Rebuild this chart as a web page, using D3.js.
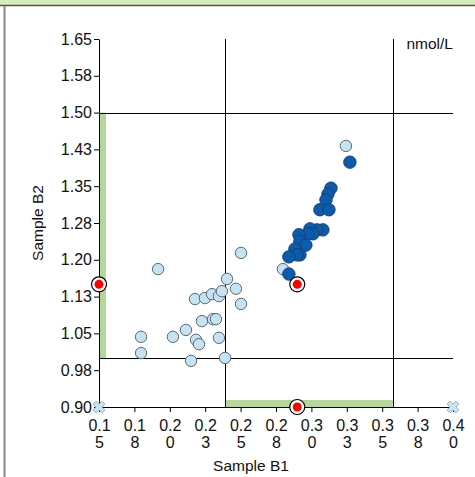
<!DOCTYPE html>
<html>
<head>
<meta charset="utf-8">
<script src="https://cdn.jsdelivr.net/npm/d3@7"></script>
<style>
  body { margin: 0; background: #fff; }
  text { font-family: "Liberation Sans", Arial, sans-serif; }
</style>
</head>
<body>
<div id="chart"></div>
<script>
// data
const xTicks = [0.15, 0.175, 0.20, 0.225, 0.25, 0.275, 0.30, 0.325, 0.35, 0.375, 0.40];
const yTicks = [0.90, 0.975, 1.05, 1.125, 1.20, 1.275, 1.35, 1.425, 1.50, 1.575, 1.65];

// light blue samples
const lightB1 = [0.1917, 0.1797, 0.1797, 0.2022, 0.2114, 0.2185, 0.2206, 0.2150, 0.2227, 0.2305, 0.2326, 0.2347, 0.2390,
  0.2178, 0.2248, 0.2298, 0.2347, 0.2368, 0.2404, 0.2467, 0.2503, 0.2503, 0.2799, 0.3244];
const lightB2 = [1.181, 1.043, 1.010, 1.043, 1.057, 1.037, 1.028, 0.994, 1.075, 1.079, 1.079, 1.041, 1.000,
  1.120, 1.122, 1.130, 1.126, 1.136, 1.161, 1.141, 1.110, 1.214, 1.181, 1.432];

// dark blue samples
const darkB1 = [0.3272, 0.3138, 0.3117, 0.3103, 0.3060, 0.3124, 0.3081, 0.3039, 0.2990, 0.3011, 0.2975, 0.2912,
  0.2919, 0.2961, 0.2884, 0.2919, 0.2898, 0.2841, 0.2841];
const darkB2 = [1.399, 1.346, 1.334, 1.322, 1.302, 1.302, 1.261, 1.261, 1.263, 1.253, 1.253, 1.251,
  1.238, 1.230, 1.222, 1.210, 1.210, 1.206, 1.171];

// highlighted sample
const current = { b1: 0.29, b2: 1.15 };

// reference limits
const limB1 = [0.239, 0.3575];
const limB2 = [1.0, 1.5];

const W = 475, H = 477;
const x0 = 99, x1 = 453, y0 = 407, y1 = 39;

const svg = d3.select('#chart').append('svg')
  .attr('width', W)
  .attr('height', H);

// top band and left border
svg.append('rect').attr('x', 0).attr('y', 0).attr('width', W).attr('height', 5).attr('fill', '#d5edbb');
svg.append('line').attr('x1', 0).attr('x2', W).attr('y1', 5.5).attr('y2', 5.5).attr('stroke', '#555').attr('stroke-width', 1.5);
svg.append('line').attr('x1', 4.5).attr('x2', 4.5).attr('y1', 6).attr('y2', H).attr('stroke', '#888').attr('stroke-width', 2);

const x = d3.scaleLinear().domain([0.15, 0.40]).range([x0, x1]);
const y = d3.scaleLinear().domain([0.90, 1.65]).range([y0, y1]);

// round half up, like the source (1.575 -> 1.58)
const fmt = v => (Math.round(v * 100 + 1e-6) / 100).toFixed(2);

// green limit bars
svg.append('rect')
  .attr('x', x0).attr('width', 7)
  .attr('y', y(limB2[1])).attr('height', y(limB2[0]) - y(limB2[1]))
  .attr('fill', '#b5d79a');
svg.append('rect')
  .attr('x', x(limB1[0])).attr('width', x(limB1[1]) - x(limB1[0]))
  .attr('y', y0 - 7).attr('height', 7)
  .attr('fill', '#b5d79a');

// reference lines
const refs = svg.append('g').attr('stroke', '#000').attr('stroke-width', 1);
limB2.forEach(v => {
  refs.append('line').attr('x1', x0).attr('x2', x1)
    .attr('y1', Math.round(y(v)) + 0.5).attr('y2', Math.round(y(v)) + 0.5);
});
limB1.forEach(v => {
  refs.append('line').attr('y1', y1).attr('y2', y0)
    .attr('x1', Math.round(x(v)) + 0.5).attr('x2', Math.round(x(v)) + 0.5);
});

// y axis
const yAxis = svg.append('g')
  .attr('transform', `translate(${x0},0)`)
  .call(d3.axisLeft(y).tickValues(yTicks).tickFormat(fmt).tickSize(5).tickSizeOuter(0));
yAxis.select('.domain').attr('stroke', '#000');
yAxis.selectAll('text').attr('font-size', 16).attr('fill', '#111').attr('x', -7);

// x axis
const xAxis = svg.append('g')
  .attr('transform', `translate(0,${y0})`)
  .call(d3.axisBottom(x).tickValues(xTicks).tickSize(5).tickSizeOuter(0).tickFormat(''));
xAxis.select('.domain').attr('stroke', '#000');
xAxis.selectAll('.tick').each(function(d) {
  const s = fmt(d);
  const t = d3.select(this).append('text')
    .attr('fill', '#111').attr('font-size', 16).attr('text-anchor', 'middle');
  t.append('tspan').attr('x', 0).attr('y', 24).text(s.slice(0, 3));
  t.append('tspan').attr('x', 0).attr('y', 41).text(s.slice(3));
});

// axis titles
svg.append('text')
  .attr('x', 251).attr('y', 471)
  .attr('text-anchor', 'middle').attr('font-size', 15.5).attr('fill', '#111')
  .text('Sample B1');
svg.append('text')
  .attr('transform', `translate(43,${(y0 + y1) / 2}) rotate(-90)`)
  .attr('text-anchor', 'middle').attr('font-size', 15.5).attr('fill', '#111')
  .text('Sample B2');
svg.append('text')
  .attr('x', 453).attr('y', 49)
  .attr('text-anchor', 'end').attr('font-size', 15.5).attr('fill', '#111')
  .text('nmol/L');

// corner markers
const cross = d3.symbol().type(d3.symbolCross).size(85);
[0.15, 0.40].forEach(v => {
  svg.append('path')
    .attr('d', cross())
    .attr('transform', `translate(${x(v)},${y0}) rotate(45)`)
    .attr('fill', '#c9e4f3').attr('stroke', '#8aa3b3').attr('stroke-width', 0.8);
});

// points
const light = lightB1.map((v, i) => ({ b1: v, b2: lightB2[i] }));
const dark = darkB1.map((v, i) => ({ b1: v, b2: darkB2[i] }));

svg.append('g').selectAll('circle')
  .data(light)
  .join('circle')
  .attr('cx', d => x(d.b1))
  .attr('cy', d => y(d.b2))
  .attr('r', 5.7)
  .attr('fill', '#c6e3f4')
  .attr('stroke', '#5d6a72')
  .attr('stroke-width', 1);

svg.append('g').selectAll('circle')
  .data(dark)
  .join('circle')
  .attr('cx', d => x(d.b1))
  .attr('cy', d => y(d.b2))
  .attr('r', 6.2)
  .attr('fill', '#0c5cad')
  .attr('stroke', '#173f70')
  .attr('stroke-width', 1);

// highlighted marker, in plot and projected on both axes
const marks = [
  [x(current.b1), y(current.b2)],
  [x0, y(current.b2)],
  [x(current.b1), y0]
];
marks.forEach(([cx, cy]) => {
  svg.append('circle').attr('cx', cx).attr('cy', cy).attr('r', 7.5)
    .attr('fill', '#fff').attr('stroke', '#000').attr('stroke-width', 1.2);
  svg.append('circle').attr('cx', cx).attr('cy', cy).attr('r', 4.5)
    .attr('fill', '#f00');
});
</script>
</body>
</html>
